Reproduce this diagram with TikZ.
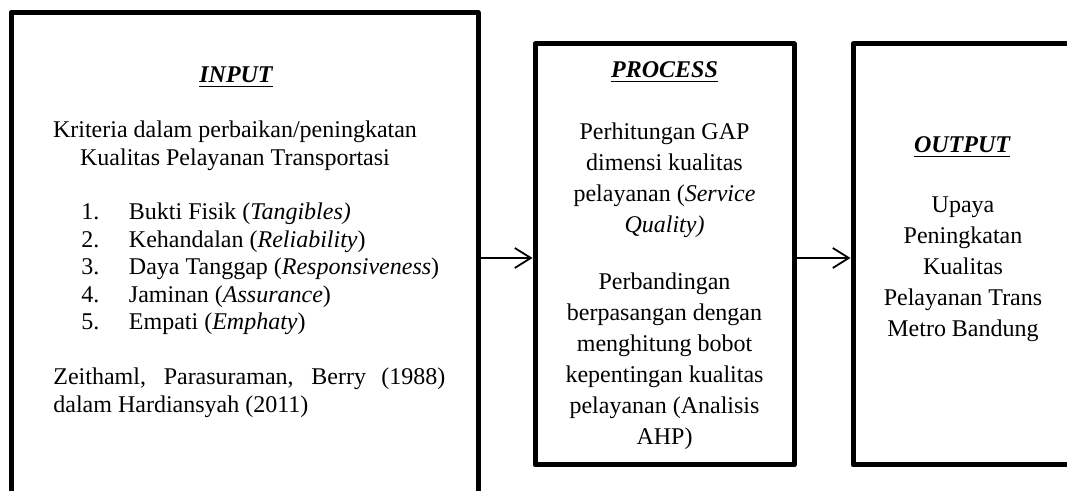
\documentclass[tikz,border=0pt]{standalone}
\usepackage{fontspec}
\setmainfont{Liberation Serif}
\usetikzlibrary{arrows.meta}

\newcommand{\boxhead}[1]{\setbox0\hbox{\bfseries\itshape #1}\rlap{\copy0}\rule[-2.2pt]{\wd0}{0.9pt}}
\newcommand{\itemno}[1]{\makebox[23.8pt][l]{#1}}

\begin{document}
\begin{tikzpicture}[x=0.5pt,y=0.5pt,
		frame/.style={draw, line width=2.5pt, line join=round, inner sep=0pt},
		txt/.style={inner sep=0pt, font=\fontsize{12}{13.75}\selectfont},
		wide/.style={inner sep=0pt, align=center, font=\fontsize{12}{15.5}\selectfont},
		flow/.style={-{Straight Barb[length=8pt,width=10pt]}, line width=0.9pt}]
	\useasboundingbox (0,0) rectangle (1067,491);
	\clip (0,0) rectangle (1067,491);

	% three boxes
	\node [frame, minimum width=233.5pt, minimum height=253.75pt] (inbox) at (244.5,224.75) {};
	\node [frame, minimum width=129.5pt, minimum height=210.5pt] (procbox) at (664.5,236.5) {};
	\node [frame, minimum width=110pt, minimum height=210.5pt] (outbox) at (963,236.5) {};

	% input (multi-line nodes sit on their last line)
	\node [txt, anchor=base] (intitle) at (236,408) {\boxhead{INPUT}};
	\node [txt, align=center, anchor=base] (incrit) at (235,325.5)
		{Kriteria dalam perbaikan/peningkatan\\Kualitas Pelayanan Transportasi};
	\node [txt, align=left, anchor=base west] (inlist) at (81,161)
		{\itemno{1.}Bukti Fisik (\textit{Tangibles)}\\
		 \itemno{2.}Kehandalan (\textit{Reliability})\\
		 \itemno{3.}Daya Tanggap (\textit{Responsiveness})\\
		 \itemno{4.}Jaminan (\textit{Assurance})\\
		 \itemno{5.}Empati (\textit{Emphaty})};
	\node [txt, text width=196pt, align=justify, anchor=base west] (insrc) at (53,106)
		{Zeithaml, Parasuraman, Berry (1988)\linebreak dalam Hardiansyah (2011)};

	% process
	\node [txt, anchor=base] (proctitle) at (664.5,413) {\boxhead{PROCESS}};
	\node [wide, anchor=base] (procgap) at (664.5,258)
		{Perhitungan GAP\\dimensi kualitas\\pelayanan (\textit{Service}\\\textit{Quality)}};
	\node [wide, anchor=base] (procahp) at (664.5,46)
		{Perbandingan\\berpasangan dengan\\menghitung bobot\\kepentingan kualitas\\pelayanan (Analisis\\AHP)};

	% output
	\node [txt, anchor=base] (outtitle) at (962,338) {\boxhead{OUTPUT}};
	\node [wide, anchor=base] (outtext) at (963,154)
		{Upaya\\Peningkatan\\Kualitas\\Pelayanan Trans\\Metro Bandung};

	\draw [flow] (inbox.east |- procbox.west) ++(0,-3.5) -- ([yshift=-1.75pt]procbox.west);
	\draw [flow] ([yshift=-1.75pt]procbox.east) -- ([yshift=-1.75pt]outbox.west);
\end{tikzpicture}
\end{document}
